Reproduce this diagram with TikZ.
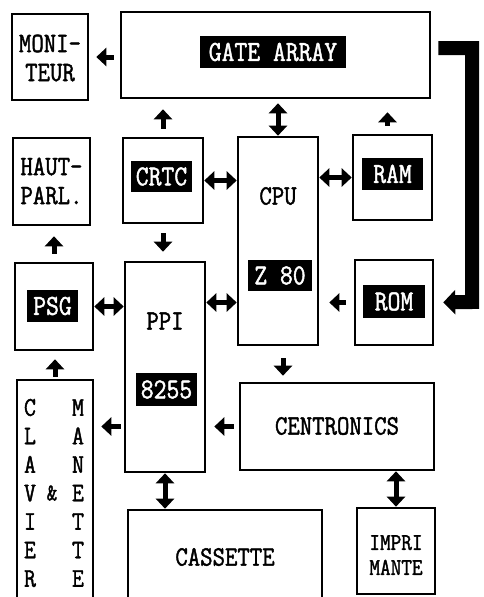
\documentclass[tikz,border=0pt]{standalone}
\usepackage{fontspec}
\newfontfamily\dotfont[FakeStretch=0.86,FakeBold=1.5]{Latin Modern Mono}
\usetikzlibrary{arrows.meta}
\tikzset{
  box/.style={draw, line width=2.6pt, inner sep=0pt, align=center},
  inv/.style={fill=black, text=white, inner sep=0pt,
    font=\dotfont\fontsize{29}{29}\selectfont},
  txt/.style={inner sep=0pt, align=center, font=\dotfont\fontsize{28}{29}\selectfont},
  arr/.style={line width=5pt, -{Triangle[width=18pt,length=10pt]}},
  darr/.style={line width=5pt, {Triangle[width=18pt,length=10pt]}-{Triangle[width=18pt,length=10pt]}},
  bus/.style={line width=14pt, -{Triangle[width=24pt,length=12pt]}}
}
\begin{document}
\begin{tikzpicture}[x=1pt,y=-1pt]
\clip (0,0) rectangle (483,597);
\fill[white] (0,0) rectangle (483,597);
% boxes
\node[box, minimum width=76, minimum height=86] (moni) at (50,57) {};
\node[box, minimum width=309, minimum height=86] (gate) at (275.5,55) {};
\node[box, minimum width=77, minimum height=87] (hp) at (51.5,181.5) {};
\node[box, minimum width=80, minimum height=85] (crtc) at (163,180.5) {};
\node[box, minimum width=80, minimum height=208] (cpu) at (278,241) {};
\node[box, minimum width=79, minimum height=85] (ram) at (392.5,177.5) {};
\node[box, minimum width=78, minimum height=87] (psg) at (54,306.5) {};
\node[box, minimum width=80, minimum height=210] (ppi) at (165,367) {};
\node[box, minimum width=78, minimum height=85] (rom) at (394,302.5) {};
\node[box, minimum width=194, minimum height=87] (cent) at (337,426.5) {};
\node[box, minimum width=76, minimum height=224] (clav) at (55,492) {};
\node[box, minimum width=194, minimum height=94] (cass) at (225,557) {};
\node[box, minimum width=78, minimum height=86] (imp) at (396,551) {};
% texts
\node[txt] (monit) at (50,58) {MONI-\\TEUR};
\node[txt] (hpt) at (51.5,181) {HAUT-\\PARL.};
\node[txt] (cput) at (278,196) {CPU};
\node[txt] (ppit) at (165,321) {PPI};
\node[txt] (centt) at (337,426) {CENTRONICS};
\node[txt] (casst) at (225,557) {CASSETTE};
\node[txt, font=\dotfont\fontsize{24}{25}\selectfont] (impt) at (396,555) {IMPRI\\MANTE};
\node[txt, font=\dotfont\fontsize{27}{28.5}\selectfont] (clavt) at (30,493) {C\\L\\A\\V\\I\\E\\R};
\node[txt, font=\dotfont\fontsize{27}{28.5}\selectfont] (manet) at (78,493) {M\\A\\N\\E\\T\\T\\E};
\node[txt, font=\dotfont\fontsize{24}{24}\selectfont] (amp) at (52,493) {\&};
% inverse labels
\node[inv, minimum width=146, minimum height=32] (gatel) at (273,52) {GATE ARRAY};
\node[inv, minimum width=61, minimum height=31] (crtcl) at (161.5,176.5) {CRTC};
\node[inv, minimum width=61, minimum height=32] (raml) at (392.5,174) {RAM};
\node[inv, minimum width=64, minimum height=31] (z80l) at (280,275.5) {Z 80};
\node[inv, minimum width=62, minimum height=33] (roml) at (394,301.5) {ROM};
\node[inv, minimum width=51, minimum height=32] (psgl) at (52.5,306) {PSG};
\node[inv, minimum width=61, minimum height=33] (ppil) at (166.5,389.5) {8255};
% connectors
\draw[arr, shorten <=6pt, shorten >=7pt] (gate.west |- moni.east) -- (moni.east);
\draw[arr, shorten <=8pt, shorten >=10pt] (crtc.north) -- (crtc.north |- gate.south);
\draw[darr, shorten >=4pt] (cpu.north) -- (cpu.north |- gate.south);
\draw[arr, shorten <=8pt, shorten >=13pt] ([xshift=-5pt]ram.north) -- ([xshift=-5pt]ram.north |- gate.south);
\draw[darr] (crtc.east) -- (crtc.east -| cpu.west);
\draw[darr] (ram.west) -- (ram.west -| cpu.east);
\draw[arr, shorten <=9pt, shorten >=9pt] (crtc.south) -- (crtc.south |- ppi.north);
\draw[arr, shorten <=8pt, shorten >=10pt] (psg.north) -- (psg.north |- hp.south);
\draw[darr] (psg.east) -- (psg.east -| ppi.west);
\draw[darr] (ppi.east |- rom.west) -- (cpu.west |- rom.west);
\draw[arr, shorten <=8pt, shorten >=10pt] (rom.west) -- (rom.west -| cpu.east);
\coordinate (bustr) at (472,48);
\coordinate (busbr) at (472,302);
\draw[bus, shorten <=7pt, shorten >=9pt] (gate.east |- bustr) -- (bustr) -- (busbr) -- (rom.east);
\draw[arr, shorten <=12pt, shorten >=6pt] ([xshift=5pt]cpu.south) -- ([xshift=5pt]cpu.south |- cent.north);
\draw[arr, shorten <=2pt, shorten >=8pt] (clav.north) -- (clav.north |- psg.south);
\draw[arr, shorten <=3pt, shorten >=7pt] (ppi.west |- cent.west) -- (clav.east |- cent.west);
\draw[arr, shorten <=5pt, shorten >=8pt] (cent.west) -- (cent.west -| ppi.east);
\draw[darr] (ppi.south) -- (ppi.south |- cass.north);
\draw[darr] (imp.north) -- (imp.north |- cent.south);
\end{tikzpicture}
\end{document}
